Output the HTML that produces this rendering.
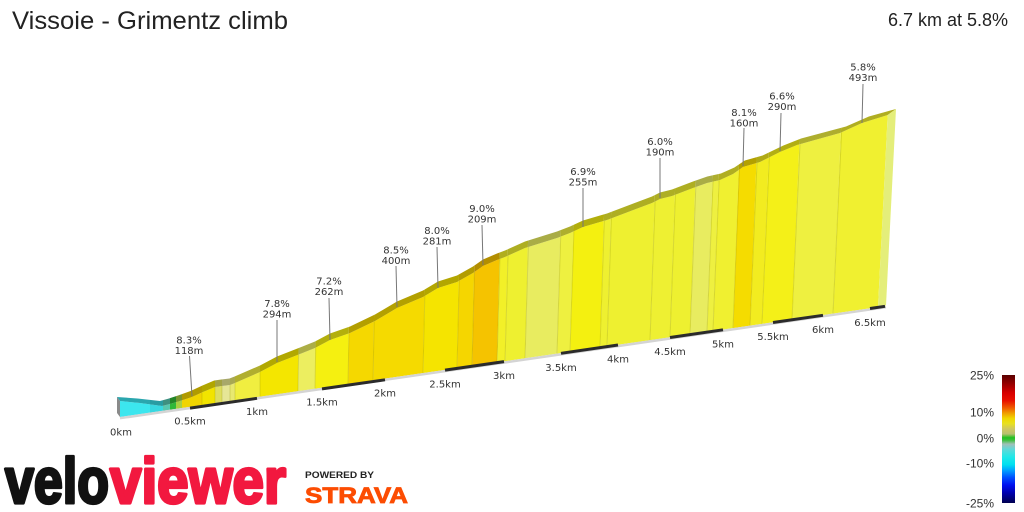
<!DOCTYPE html>
<html><head><meta charset="utf-8"><style>
html,body{margin:0;padding:0;background:#fff;}
svg{display:block;}
</style></head><body>
<svg width="1024" height="512" viewBox="0 0 1024 512" xmlns="http://www.w3.org/2000/svg">
<defs>
<clipPath id="front"><polygon points="120,401 140,403 162,406 170,404 180,401 192,397 203,392 215,387 222,386 230,385 235,383 260,372 277,363 300,354 315,348 330,340 350,333 375,321 397,308 423,297 438,288 457,282 473,273 483,266 497,260 505,257 525,248 557,238 570,233 583,227 600,222 607,220 652,203 660,199 672,196 693,188 707,183 720,180 733,174 743,167 760,162 780,152 797,145 840,133 862,123 887.7,115 878,307.1 120,417"/></clipPath>
<clipPath id="band"><polygon points="120,401 140,403 162,406 170,404 180,401 192,397 203,392 215,387 222,386 230,385 235,383 260,372 277,363 300,354 315,348 330,340 350,333 375,321 397,308 423,297 438,288 457,282 473,273 483,266 497,260 505,257 525,248 557,238 570,233 583,227 600,222 607,220 652,203 660,199 672,196 693,188 707,183 720,180 733,174 743,167 760,162 780,152 797,145 840,133 862,123 887.7,115 896,109 868.9,116.5 846,126.5 801.1,138.5 783.4,145.5 762.6,155.5 744.8,160.5 734.4,167.5 720.9,173.5 707.3,176.5 693,181.5 672,189.5 660,192.5 652,196.5 607,213.5 600,215.5 583,220.5 570,226.5 557,231.5 525,241.5 505,250.5 497,253.5 483,259.5 473,266.5 457,275.5 438,281.5 423,290.5 397,301.5 375,314.5 350,326.5 330,333.5 315,341.5 300,347.5 277,356.5 260,365.5 234.6,376.5 229.5,378.5 221.3,379.5 214.2,380.5 201.9,385.7 190.6,391 178.4,395.4 168.1,398.7 160,401 137.5,398.5 117,397"/></clipPath>
<linearGradient id="scale" x1="0" y1="0" x2="0" y2="1">
<stop offset="0" stop-color="#5a0000"/>
<stop offset="0.08" stop-color="#a00000"/>
<stop offset="0.14" stop-color="#d80000"/>
<stop offset="0.2" stop-color="#e81000"/>
<stop offset="0.26" stop-color="#f06000"/>
<stop offset="0.3" stop-color="#f0a000"/>
<stop offset="0.34" stop-color="#f0d800"/>
<stop offset="0.38" stop-color="#e8e020"/>
<stop offset="0.42" stop-color="#d0c860"/>
<stop offset="0.46" stop-color="#b8c070"/>
<stop offset="0.49" stop-color="#20c020"/>
<stop offset="0.51" stop-color="#40c040"/>
<stop offset="0.54" stop-color="#a0c0b8"/>
<stop offset="0.58" stop-color="#60d8d8"/>
<stop offset="0.64" stop-color="#20e8e8"/>
<stop offset="0.7" stop-color="#00e0f0"/>
<stop offset="0.74" stop-color="#00a8ff"/>
<stop offset="0.8" stop-color="#0050ff"/>
<stop offset="0.86" stop-color="#0010f0"/>
<stop offset="0.92" stop-color="#0000b0"/>
<stop offset="1" stop-color="#000050"/>
</linearGradient>
</defs>

<!-- Title -->
<text x="12" y="29" font-family="Liberation Sans, Arial, sans-serif" font-size="25" fill="#222" textLength="276" lengthAdjust="spacingAndGlyphs">Vissoie - Grimentz climb</text>
<text x="1008" y="26" font-family="Liberation Sans, Arial, sans-serif" font-size="18" fill="#222" text-anchor="end">6.7 km at 5.8%</text>

<!-- Front face segments -->
<g clip-path="url(#front)">
<polygon points="110,425 150,418.7 150,388.4 110,380" fill="#3ce6ee"/>
<polygon points="150,418.7 163,416.8 163,389.8 150,388.4" fill="#38d8e0"/>
<polygon points="163,416.8 170,415.8 170,388 163,389.8" fill="#58c8b0"/>
<polygon points="170,415.8 176,414.9 176,386.2 170,388" fill="#30b838"/>
<polygon points="176,414.9 182,414 182,384.3 176,386.2" fill="#a8d040"/>
<polygon points="182,414 202,411.1 202,376.5 182,384.3" fill="#f0d400"/>
<polygon points="202,411.1 215,409.2 215,371 202,376.5" fill="#f2e400"/>
<polygon points="215,409.2 222,408.2 222,370 215,371" fill="#dede60"/>
<polygon points="222,408.2 230,407 230,369 222,370" fill="#e6e696"/>
<polygon points="230,407 235,406.3 235,367 230,369" fill="#e8e870"/>
<polygon points="235,406.3 260,402.7 260,356 235,367" fill="#f0ee40"/>
<polygon points="260,402.7 298,397.2 298.6,338.5 260,356" fill="#f4e600"/>
<polygon points="298,397.2 315,394.7 315.7,331.6 298.6,338.5" fill="#ecee60"/>
<polygon points="315,394.7 348,389.9 349,317.3 315.7,331.6" fill="#f5f010"/>
<polygon points="348,389.9 373,386.3 374.2,305.4 349,317.3" fill="#f5d800"/>
<polygon points="373,386.3 423,379.1 424.8,279.9 374.2,305.4" fill="#f5da00"/>
<polygon points="423,379.1 457,374.1 459.2,264.8 424.8,279.9" fill="#f5e400"/>
<polygon points="457,374.1 472,372 474.5,256 459.2,264.8" fill="#f5d600"/>
<polygon points="472,372 497,368.3 499.9,242.9 474.5,256" fill="#f5c300"/>
<polygon points="497,368.3 505,367.2 508,239.7 499.9,242.9" fill="#f2f028"/>
<polygon points="505,367.2 525,364.3 528.3,231 508,239.7" fill="#eef030"/>
<polygon points="525,364.3 557,359.6 560.7,220.6 528.3,231" fill="#e8ec60"/>
<polygon points="557,359.6 570,357.8 573.9,215.2 560.7,220.6" fill="#eef040"/>
<polygon points="570,357.8 600,353.4 604.3,204.8 573.9,215.2" fill="#f4f010"/>
<polygon points="600,353.4 607,352.4 611.4,202.3 604.3,204.8" fill="#eef030"/>
<polygon points="607,352.4 650,346.2 655.1,185.5 611.4,202.3" fill="#eef030"/>
<polygon points="650,346.2 670,343.3 675.4,178.7 655.1,185.5" fill="#eef032"/>
<polygon points="670,343.3 690,340.4 695.8,171 675.4,178.7" fill="#eef030"/>
<polygon points="690,340.4 707,337.9 713,165.6 695.8,171" fill="#e8ec60"/>
<polygon points="707,337.9 713,337 719.1,164.2 713,165.6" fill="#eef040"/>
<polygon points="713,337 733,334.1 739.4,153.5 719.1,164.2" fill="#f0f030"/>
<polygon points="733,334.1 750,331.7 757,146.9 739.4,153.5" fill="#f5dc00"/>
<polygon points="750,331.7 762,329.9 769.3,141.4 757,146.9" fill="#f2ec20"/>
<polygon points="762,329.9 792,325.6 800,128.2 769.3,141.4" fill="#f4f018"/>
<polygon points="792,325.6 833,319.6 841.6,116.3 800,128.2" fill="#eef040"/>
<polygon points="833,319.6 905,300 905,95 841.6,116.3" fill="#f0f030"/>
<g stroke="#8a8a00" stroke-opacity="0.25" stroke-width="1">
<line x1="298" y1="391.2" x2="298.6" y2="354.5"/>
<line x1="315" y1="388.7" x2="315.7" y2="347.6"/>
<line x1="348" y1="383.9" x2="349" y2="333.3"/>
<line x1="373" y1="380.3" x2="374.2" y2="321.4"/>
<line x1="423" y1="373.1" x2="424.8" y2="295.9"/>
<line x1="457" y1="368.1" x2="459.2" y2="280.8"/>
<line x1="472" y1="366" x2="474.5" y2="272"/>
<line x1="497" y1="362.3" x2="499.9" y2="258.9"/>
<line x1="505" y1="361.2" x2="508" y2="255.7"/>
<line x1="525" y1="358.3" x2="528.3" y2="247"/>
<line x1="557" y1="353.6" x2="560.7" y2="236.6"/>
<line x1="570" y1="351.8" x2="573.9" y2="231.2"/>
<line x1="600" y1="347.4" x2="604.3" y2="220.8"/>
<line x1="607" y1="346.4" x2="611.4" y2="218.3"/>
<line x1="650" y1="340.2" x2="655.1" y2="201.5"/>
<line x1="670" y1="337.3" x2="675.4" y2="194.7"/>
<line x1="690" y1="334.4" x2="695.8" y2="187"/>
<line x1="707" y1="331.9" x2="713" y2="181.6"/>
<line x1="713" y1="331" x2="719.1" y2="180.2"/>
<line x1="733" y1="328.1" x2="739.4" y2="169.5"/>
<line x1="750" y1="325.7" x2="757" y2="162.9"/>
<line x1="762" y1="323.9" x2="769.3" y2="157.4"/>
<line x1="792" y1="319.6" x2="800" y2="144.2"/>
<line x1="833" y1="313.6" x2="841.6" y2="132.3"/>
<line x1="202" y1="405.1" x2="202" y2="392.5"/>
<line x1="215" y1="403.2" x2="215" y2="387"/>
<line x1="222" y1="402.2" x2="222" y2="386"/>
<line x1="230" y1="401" x2="230" y2="385"/>
<line x1="235" y1="400.3" x2="235" y2="383"/>
<line x1="260" y1="396.7" x2="260" y2="372"/>
</g>
</g>

<!-- Top band -->
<g clip-path="url(#band)">
<polygon points="110,425 150,418.7 150,388.4 110,380" fill="#2aa6ae"/>
<polygon points="150,418.7 163,416.8 163,389.8 150,388.4" fill="#289ca2"/>
<polygon points="163,416.8 170,415.8 170,388 163,389.8" fill="#3e9080"/>
<polygon points="170,415.8 176,414.9 176,386.2 170,388" fill="#238528"/>
<polygon points="176,414.9 182,414 182,384.3 176,386.2" fill="#7a962e"/>
<polygon points="182,414 202,411.1 202,376.5 182,384.3" fill="#b09a00"/>
<polygon points="202,411.1 215,409.2 215,371 202,376.5" fill="#b0a600"/>
<polygon points="215,409.2 222,408.2 222,370 215,371" fill="#a2a244"/>
<polygon points="222,408.2 230,407 230,369 222,370" fill="#a8a86a"/>
<polygon points="230,407 235,406.3 235,367 230,369" fill="#a8a852"/>
<polygon points="235,406.3 260,402.7 260,356 235,367" fill="#b0ae2e"/>
<polygon points="260,402.7 298,397.2 298.6,338.5 260,356" fill="#b2a800"/>
<polygon points="298,397.2 315,394.7 315.7,331.6 298.6,338.5" fill="#acae46"/>
<polygon points="315,394.7 348,389.9 349,317.3 315.7,331.6" fill="#b3af0c"/>
<polygon points="348,389.9 373,386.3 374.2,305.4 349,317.3" fill="#b39e00"/>
<polygon points="373,386.3 423,379.1 424.8,279.9 374.2,305.4" fill="#b3a000"/>
<polygon points="423,379.1 457,374.1 459.2,264.8 424.8,279.9" fill="#b3a600"/>
<polygon points="457,374.1 472,372 474.5,256 459.2,264.8" fill="#b39c00"/>
<polygon points="472,372 497,368.3 499.9,242.9 474.5,256" fill="#b38e00"/>
<polygon points="497,368.3 505,367.2 508,239.7 499.9,242.9" fill="#b0ae1e"/>
<polygon points="505,367.2 525,364.3 528.3,231 508,239.7" fill="#aeae22"/>
<polygon points="525,364.3 557,359.6 560.7,220.6 528.3,231" fill="#a9ac46"/>
<polygon points="557,359.6 570,357.8 573.9,215.2 560.7,220.6" fill="#aeae2e"/>
<polygon points="570,357.8 600,353.4 604.3,204.8 573.9,215.2" fill="#b2ae0c"/>
<polygon points="600,353.4 607,352.4 611.4,202.3 604.3,204.8" fill="#aeae22"/>
<polygon points="607,352.4 650,346.2 655.1,185.5 611.4,202.3" fill="#aeae22"/>
<polygon points="650,346.2 670,343.3 675.4,178.7 655.1,185.5" fill="#aeae24"/>
<polygon points="670,343.3 690,340.4 695.8,171 675.4,178.7" fill="#aeae22"/>
<polygon points="690,340.4 707,337.9 713,165.6 695.8,171" fill="#a9ac46"/>
<polygon points="707,337.9 713,337 719.1,164.2 713,165.6" fill="#aeae2e"/>
<polygon points="713,337 733,334.1 739.4,153.5 719.1,164.2" fill="#b0ae22"/>
<polygon points="733,334.1 750,331.7 757,146.9 739.4,153.5" fill="#b3a000"/>
<polygon points="750,331.7 762,329.9 769.3,141.4 757,146.9" fill="#b0aa16"/>
<polygon points="762,329.9 792,325.6 800,128.2 769.3,141.4" fill="#b2ae12"/>
<polygon points="792,325.6 833,319.6 841.6,116.3 800,128.2" fill="#aeae2e"/>
<polygon points="833,319.6 905,300 905,95 841.6,116.3" fill="#b0ae22"/>
</g>

<!-- side faces -->
<polygon points="878,307.1 887.7,115 896,109 886,305.5" fill="#e4ee7a"/>
<polygon points="117,397 120,401 120,417 117,413" fill="#8a8a8a"/>

<!-- bottom strip -->
<line x1="120" y1="418.2" x2="886" y2="307.2" stroke="#d4d4d4" stroke-width="2.5"/>
<g stroke="#2b2b2b" stroke-width="3">
<line x1="190" y1="408.1" x2="257" y2="398.3"/>
<line x1="322" y1="388.9" x2="385" y2="379.8"/>
<line x1="445" y1="370.1" x2="504" y2="361.6"/>
<line x1="561" y1="353.3" x2="618" y2="345.0"/>
<line x1="670" y1="337.5" x2="723" y2="329.8"/>
<line x1="773" y1="322.5" x2="823" y2="315.3"/>
<line x1="870" y1="308.5" x2="885" y2="306.3"/>
</g>

<!-- km labels -->
<g font-family="DejaVu Sans, Verdana, sans-serif" font-size="10" fill="#333" text-anchor="middle">
<text x="121" y="435.5">0km</text>
<text x="190" y="424.5">0.5km</text>
<text x="257" y="414.8">1km</text>
<text x="322" y="405.4">1.5km</text>
<text x="385" y="396.3">2km</text>
<text x="445" y="387.6">2.5km</text>
<text x="504" y="379">3km</text>
<text x="561" y="370.8">3.5km</text>
<text x="618" y="362.5">4km</text>
<text x="670" y="355">4.5km</text>
<text x="723" y="347.3">5km</text>
<text x="773" y="340">5.5km</text>
<text x="823" y="332.8">6km</text>
<text x="870" y="326">6.5km</text>
</g>

<!-- annotations -->
<g stroke="#777" stroke-width="1">
<line x1="189.5" y1="356" x2="192" y2="396"/>
<line x1="277" y1="320" x2="277" y2="362"/>
<line x1="329" y1="298" x2="330" y2="340"/>
<line x1="396" y1="266" x2="397" y2="307"/>
<line x1="437" y1="247" x2="438" y2="288"/>
<line x1="482" y1="225" x2="483" y2="265"/>
<line x1="583" y1="188" x2="583" y2="227"/>
<line x1="660" y1="158" x2="660" y2="198"/>
<line x1="744" y1="128" x2="743" y2="166"/>
<line x1="781" y1="113" x2="780" y2="151"/>
<line x1="863" y1="84" x2="862" y2="123"/>
</g>
<g font-family="DejaVu Sans, Verdana, sans-serif" font-size="10" fill="#333" text-anchor="middle">
<text x="189" y="343.5">8.3%</text><text x="189" y="354">118m</text>
<text x="277" y="307">7.8%</text><text x="277" y="317.5">294m</text>
<text x="329" y="284.5">7.2%</text><text x="329" y="295">262m</text>
<text x="396" y="253.5">8.5%</text><text x="396" y="264">400m</text>
<text x="437" y="234">8.0%</text><text x="437" y="244.5">281m</text>
<text x="482" y="212">9.0%</text><text x="482" y="222.5">209m</text>
<text x="583" y="175">6.9%</text><text x="583" y="185.5">255m</text>
<text x="660" y="145">6.0%</text><text x="660" y="155.5">190m</text>
<text x="744" y="116">8.1%</text><text x="744" y="126.5">160m</text>
<text x="782" y="99.5">6.6%</text><text x="782" y="110">290m</text>
<text x="863" y="70.5">5.8%</text><text x="863" y="81">493m</text>
</g>

<!-- colour scale -->
<rect x="1002" y="375" width="13" height="128" fill="url(#scale)"/>
<g font-family="Liberation Sans, Arial, sans-serif" font-size="12" fill="#333" text-anchor="end">
<text x="994" y="379.5">25%</text>
<text x="994" y="416.5">10%</text>
<text x="994" y="442.5">0%</text>
<text x="994" y="467.5">-10%</text>
<text x="994" y="507.5">-25%</text>
</g>

<!-- logos -->
<text x="5" y="503" font-family="Liberation Sans, Arial, sans-serif" font-weight="bold" font-size="64" fill="#111" stroke="#111" stroke-width="3.2" stroke-linejoin="round" textLength="104" lengthAdjust="spacingAndGlyphs">velo</text>
<text x="110" y="503" font-family="Liberation Sans, Arial, sans-serif" font-weight="bold" font-size="64" fill="#f2183f" stroke="#f2183f" stroke-width="3.2" stroke-linejoin="round" textLength="176" lengthAdjust="spacingAndGlyphs">viewer</text>
<text x="305" y="478" font-family="Liberation Sans, Arial, sans-serif" font-weight="bold" font-size="9.5" fill="#222" textLength="69" lengthAdjust="spacingAndGlyphs">POWERED BY</text>
<text x="305" y="503" font-family="Liberation Sans, Arial, sans-serif" font-weight="bold" font-size="22" fill="#fc4c02" stroke="#fc4c02" stroke-width="0.8" textLength="103" lengthAdjust="spacingAndGlyphs">STRAVA</text>
</svg>
</body></html>
